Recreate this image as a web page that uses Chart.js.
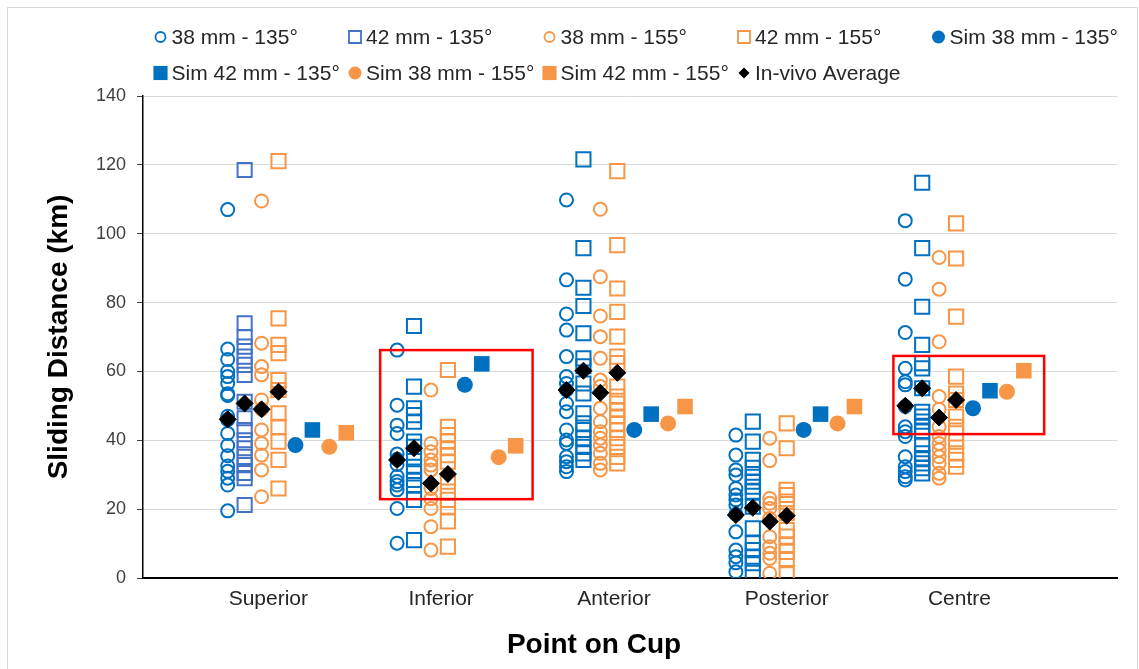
<!DOCTYPE html>
<html>
<head>
<meta charset="utf-8">
<script src="https://cdn.jsdelivr.net/npm/chart.js@4.4.1/dist/chart.umd.min.js"></script>
<style>
html,body{margin:0;padding:0;background:#fff;}
canvas{display:block;}
</style>
</head>
<body>
<canvas id="c" width="1139" height="669"></canvas>
<script>
// ---------- data (km) ----------
const categories = ['Superior', 'Inferior', 'Anterior', 'Posterior', 'Centre'];

// measured, one inner array per category (Superior, Inferior, Anterior, Posterior, Centre)
const meas38_135 = [
  [107, 66.5, 63.5, 60, 58.5, 56.5, 53.5, 53, 47, 46, 42, 38.5, 35.5, 32.5, 31, 29, 27, 19.5],
  [66.2, 50.2, 44.4, 42, 36, 34.5, 33, 29.5, 28, 27, 25.6, 20.2, 10.1],
  [109.8, 86.6, 76.7, 72, 64.3, 58.5, 56.5, 54.6, 50.7, 48.3, 43, 40.1, 39.1, 35.2, 33.8, 32.3, 30.9],
  [41.5, 35.7, 31.4, 29.9, 26, 24.1, 22.7, 21.2, 18.5, 13.4, 8.1, 6.2, 4.4, 1.8],
  [103.8, 86.8, 71.3, 60.9, 57, 56.1, 49.8, 43.9, 42.5, 41.1, 35.2, 32.3, 30.9, 29.4, 28.5]
];
const meas42_135 = [
  [118.5, 74, 70, 67.2, 64.3, 61.9, 59, 51.2, 46.4, 43, 40, 37.7, 35.2, 32.8, 30.5, 29, 21.2],
  [73.2, 55.6, 49.3, 47.3, 45.4, 39.6, 38.1, 35, 32.3, 30.4, 28.5, 27, 22.7, 11],
  [121.6, 95.8, 84.3, 79, 71.1, 63.8, 61.5, 56.5, 53.6, 47.8, 44.9, 43, 40.6, 38.1, 36.2, 34.3],
  [45.4, 39.6, 34.3, 32, 29.4, 28, 26.5, 25.1, 20.7, 14.4, 10.1, 8.1, 6.2, 4.3, 1.5],
  [114.8, 95.8, 78.8, 67.7, 62.4, 60.9, 55.1, 48.3, 46.9, 45.4, 43.9, 42.5, 38.6, 36.2, 34.8, 33.3, 31.9, 30.4]
];
const meas38_155 = [
  [109.5, 68.2, 61.4, 59, 51.7, 49, 43, 39.1, 35.7, 31.4, 23.6],
  [54.6, 39.1, 36.7, 34.3, 32.8, 31.4, 26, 23, 20.2, 14.9, 8.1],
  [107.1, 87.5, 76.1, 70.1, 63.8, 57.5, 55.6, 49.3, 45.4, 42.5, 40.6, 38.6, 36.2, 33.3, 31.4],
  [40.6, 34.1, 23.1, 21.7, 20.2, 17.3, 12, 9.1, 7.2, 5.7, 1.4],
  [93.1, 83.9, 68.6, 52.7, 49, 43.9, 41.1, 39.1, 37.2, 35.2, 33.3, 30.4, 29]
];
const meas42_155 = [
  [121.1, 75.4, 67.7, 65.3, 57.5, 54.6, 47.8, 43.9, 39.6, 34.3, 26],
  [60.4, 43.9, 41.5, 39.6, 37.7, 35.7, 33.8, 28, 25.1, 22.7, 20.7, 16.4, 9.1],
  [118.2, 96.7, 84.1, 77.3, 70.1, 64.3, 62.4, 55.6, 52.7, 50.7, 48.8, 46.9, 44.9, 43, 40.6, 38.1, 35.2, 33.3],
  [44.9, 37.7, 25.6, 24.1, 22.2, 18.8, 13.9, 12, 9.6, 7.6, 5.2, 1.4],
  [103, 92.8, 75.9, 58.5, 53.6, 51.7, 46.9, 43.9, 42, 39.6, 36.2, 34.3, 32.3]
];

// simulations, one value per category
const sim38_135 = [38.6, 56.1, 43, 43, 49.3];
const sim42_135 = [43, 62.2, 47.6, 47.6, 54.4];
const sim38_155 = [38.1, 35.1, 44.9, 44.9, 54.1];
const sim42_155 = [42.2, 38.4, 49.8, 49.8, 60.2];

// in-vivo averages per category: [38-135, 42-135, 38-155, 42-155]
const invivoAvg = [
  [46.1, 50.7, 49, 54.1],
  [34.3, 37.7, 27.5, 30.2],
  [54.6, 60.2, 53.8, 59.6],
  [18.3, 20.4, 16.4, 18.1],
  [50, 55.1, 46.6, 51.7]
];

const yMin = 0, yMax = 140, yStep = 20;
const xTitle = 'Point on Cup';
const yTitle = 'Sliding Distance (km)';

// ---------- styling ----------
const FONT = '"Liberation Sans", Arial, sans-serif';
const BLUE = '#0070C0', BLUE2 = '#4472C4', ORANGE = '#F79646';

// slot k of the 8 columns inside a category group
const slotX = (g, k) => g + 0.5 + 0.1 * k;
const groupPts = (groups, k) => groups.flatMap((vals, g) => vals.map(v => ({x: slotX(g, k), y: v})));
const singlePts = (vals, k) => vals.map((v, g) => ({x: slotX(g, k), y: v}));
const invivoPts = invivoAvg.flatMap((vals, g) => vals.map((v, j) => ({x: slotX(g, j), y: v})));

const datasets = [
  {label: '38 mm - 135°', data: groupPts(meas38_135, 0), pointStyle: 'circle', pointRadius: 6.5, borderWidth: 2,
   borderColor: BLUE, backgroundColor: 'rgba(0,0,0,0)', lgColor: BLUE, lgFill: false, lgR: 5, order: 8},
  {label: '42 mm - 135°', data: groupPts(meas42_135, 1), pointStyle: 'rect', pointRadius: 10, borderWidth: 2,
   borderColor: c => (c.raw && c.raw.x < 1 ? BLUE2 : BLUE), backgroundColor: 'rgba(0,0,0,0)', lgColor: BLUE2, lgFill: false, lgR: 8.5, order: 7},
  {label: '38 mm - 155°', data: groupPts(meas38_155, 2), pointStyle: 'circle', pointRadius: 6.5, borderWidth: 2,
   borderColor: ORANGE, backgroundColor: 'rgba(0,0,0,0)', lgColor: ORANGE, lgFill: false, lgR: 5, order: 6},
  {label: '42 mm - 155°', data: groupPts(meas42_155, 3), pointStyle: 'rect', pointRadius: 10, borderWidth: 2,
   borderColor: ORANGE, backgroundColor: 'rgba(0,0,0,0)', lgColor: ORANGE, lgFill: false, lgR: 8.5, order: 5},
  {label: 'Sim 38 mm - 135°', data: singlePts(sim38_135, 4), pointStyle: 'circle', pointRadius: 8, borderWidth: 0,
   borderColor: BLUE, backgroundColor: BLUE, lgColor: BLUE, lgFill: true, lgR: 6.5, order: 4},
  {label: 'Sim 42 mm - 135°', data: singlePts(sim42_135, 5), pointStyle: 'rect', pointRadius: 11, borderWidth: 0,
   borderColor: BLUE, backgroundColor: BLUE, lgColor: BLUE, lgFill: true, lgR: 10, order: 3},
  {label: 'Sim 38 mm - 155°', data: singlePts(sim38_155, 6), pointStyle: 'circle', pointRadius: 8, borderWidth: 0,
   borderColor: ORANGE, backgroundColor: ORANGE, lgColor: ORANGE, lgFill: true, lgR: 6.5, order: 2},
  {label: 'Sim 42 mm - 155°', data: singlePts(sim42_155, 7), pointStyle: 'rect', pointRadius: 11, borderWidth: 0,
   borderColor: ORANGE, backgroundColor: ORANGE, lgColor: ORANGE, lgFill: true, lgR: 10, order: 1},
  {label: 'In-vivo Average', data: invivoPts, pointStyle: 'rectRot', pointRadius: 8.5, borderWidth: 1,
   borderColor: '#000', backgroundColor: '#000', lgColor: '#000', lgFill: true, lgR: 5.5, order: 0}
];
datasets.forEach(d => { d.showLine = false; d.pointHoverRadius = d.pointRadius; });

// highlighted regions (data units)
const highlightBoxes = [
  {x0: 1.40, x1: 2.30, y0: 22.9, y1: 66.2},
  {x0: 4.43, x1: 5.32, y0: 41.8, y1: 64.5}
];

const bgPlugin = {
  id: 'bg',
  beforeDraw(chart) {
    const ctx = chart.ctx;
    ctx.save();
    ctx.fillStyle = '#fff';
    ctx.fillRect(0, 0, chart.width, chart.height);
    ctx.strokeStyle = '#D9D9D9';
    ctx.lineWidth = 1;
    ctx.strokeRect(7.5, 7.5, chart.width - 9, chart.height + 5);
    ctx.restore();
  }
};

const boxPlugin = {
  id: 'boxes',
  afterDatasetsDraw(chart) {
    const {ctx, scales: {x, y}} = chart;
    ctx.save();
    ctx.strokeStyle = '#FF0000';
    ctx.lineWidth = 2.5;
    highlightBoxes.forEach(b => {
      const l = x.getPixelForValue(b.x0), r = x.getPixelForValue(b.x1);
      const t = y.getPixelForValue(b.y1), bt = y.getPixelForValue(b.y0);
      ctx.strokeRect(l, t, r - l, bt - t);
    });
    ctx.restore();
  }
};

const legendPlugin = {
  id: 'gridLegend',
  afterDraw(chart) {
    const ctx = chart.ctx;
    ctx.save();
    chart.data.datasets.forEach((ds, i) => {
      const row = i < 5 ? 0 : 1;
      const col = row === 0 ? i : i - 5;
      const mx = 160.5 + col * 194.5;
      const my = row === 0 ? 37 : 73;
      ctx.fillStyle = ds.lgFill ? ds.lgColor : 'rgba(0,0,0,0)';
      ctx.strokeStyle = ds.lgColor;
      ctx.lineWidth = ds.lgFill ? 0 : 1.8;
      Chart.helpers.drawPoint(ctx, {pointStyle: ds.pointStyle, radius: ds.lgR, rotation: 0,
        borderWidth: ds.lgFill ? 0 : 1.8}, mx, my);
      ctx.fillStyle = '#262626';
      ctx.font = '21px ' + FONT;
      ctx.textAlign = 'left';
      ctx.textBaseline = 'middle';
      ctx.fillText(ds.label, mx + 11, my + 1);
    });
    // x-axis title (offset left of plot centre, as in the original)
    ctx.fillStyle = '#000';
    ctx.font = 'bold 28px ' + FONT;
    ctx.textAlign = 'center';
    ctx.textBaseline = 'middle';
    ctx.fillText(xTitle, 594, 645);
    ctx.restore();
  }
};

new Chart(document.getElementById('c'), {
  type: 'scatter',
  data: {datasets},
  options: {
    responsive: false,
    animation: false,
    events: [],
    layout: {padding: {top: 96, right: 22, left: 0, bottom: 0}},
    plugins: {legend: {display: false}, tooltip: {enabled: false}},
    scales: {
      x: {
        type: 'linear', min: 0, max: 5.75,
        grid: {display: false, drawTicks: false},
        border: {display: true, color: '#000', width: 2},
        afterBuildTicks: s => { s.ticks = categories.map((c, i) => ({value: 0.74 + i * 1.02})); },
        afterFit: s => { s.height = 91; },
        ticks: {
          autoSkip: false, maxRotation: 0, padding: 9,
          font: {family: FONT, size: 21}, color: '#262626',
          callback: (v, i) => categories[i]
        },
        title: {display: false}
      },
      y: {
        min: yMin, max: yMax,
        afterFit: s => { s.width = 143; },
        grid: {color: '#D9D9D9', lineWidth: 1, drawTicks: true, tickLength: 6, tickColor: '#404040'},
        border: {display: true, color: '#000', width: 1.5},
        ticks: {stepSize: yStep, padding: 11, font: {family: FONT, size: 18}, color: '#404040'},
        title: {display: true, text: yTitle, color: '#000',
          font: {family: FONT, size: 28, weight: 'bold'}, padding: {top: 42, bottom: 0}}
      }
    }
  },
  plugins: [bgPlugin, boxPlugin, legendPlugin]
});
</script>
</body>
</html>
